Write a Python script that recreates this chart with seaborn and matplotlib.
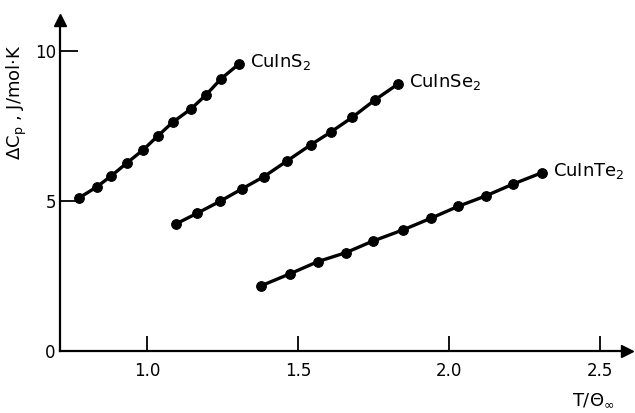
import matplotlib
matplotlib.use('Agg')
import matplotlib.pyplot as plt
import seaborn as sns

# values
s_x = [0.775, 0.834, 0.881, 0.934, 0.987, 1.036, 1.086, 1.146, 1.195, 1.245, 1.305]
s_y = [5.10, 5.47, 5.83, 6.27, 6.70, 7.17, 7.63, 8.07, 8.53, 9.07, 9.57]

se_x = [1.095, 1.166, 1.242, 1.314, 1.387, 1.463, 1.542, 1.609, 1.680, 1.755, 1.830]
se_y = [4.23, 4.59, 4.99, 5.40, 5.81, 6.33, 6.87, 7.30, 7.79, 8.37, 8.89]

te_x = [1.377, 1.475, 1.566, 1.659, 1.747, 1.846, 1.939, 2.030, 2.122, 2.211, 2.307]
te_y = [2.17, 2.58, 2.98, 3.28, 3.66, 4.03, 4.42, 4.82, 5.17, 5.56, 5.94]

labels = ['CuInS$_2$', 'CuInSe$_2$', 'CuInTe$_2$']
x_ticks = [1.0, 1.5, 2.0, 2.5]
x_ticklabels = ['1.0', '1.5', '2.0', '2.5']
y_ticks = [0, 5, 10]


def setup_style():
    sns.set_style('ticks')
    plt.rcParams['font.family'] = ['DejaVu Sans']
    plt.rcParams['mathtext.fontset'] = 'dejavusans'
    plt.rcParams['xtick.direction'] = 'in'
    plt.rcParams['ytick.direction'] = 'in'
    for key in ['text.color', 'axes.labelcolor', 'xtick.color', 'ytick.color']:
        plt.rcParams[key] = 'black'


setup_style()
fig = plt.figure(figsize=(6.35, 4.13), dpi=100)
ax = fig.add_axes([60 / 635, 62 / 413, 567 / 635, 331 / 413])

series = [(s_x, s_y), (se_x, se_y), (te_x, te_y)]
for (xs, ys), lab in zip(series, labels):
    sns.lineplot(x=xs, y=ys, ax=ax, color='black', linewidth=2.4,
                 marker='o', markersize=7, markeredgecolor='black', sort=False)
    ax.annotate(lab, xy=(xs[-1], ys[-1]), xytext=(11, 2),
                textcoords='offset pixels', ha='left', va='center', fontsize=13)

ax.set_xlim(0.712, 2.589)
ax.set_ylim(0, 11.03)
ax.set_xticks(x_ticks)
ax.set_xticklabels(x_ticklabels)
ax.set_yticks(y_ticks)
ax.tick_params(axis='x', bottom=True, direction='in', length=11, width=1.3, pad=8,
               labelsize=12, color='black', labelcolor='black')
ax.tick_params(axis='y', left=True, direction='in', length=13, width=1.3, pad=3,
               labelsize=12, color='black', labelcolor='black')

for side in ['top', 'right']:
    ax.spines[side].set_visible(False)
for side in ['left', 'bottom']:
    ax.spines[side].set_color('black')
    ax.spines[side].set_linewidth(1.6)

# arrow heads on the axes
ax.plot(1, 0, '>k', markersize=9, transform=ax.transAxes, clip_on=False)
ax.plot(0, 1, '^k', markersize=9, transform=ax.transAxes, clip_on=False)

ax.set_ylabel(r'$\Delta$C$_\mathrm{p}$ , J/mol$\cdot$K', fontsize=13, color='black')
ax.yaxis.set_label_coords(-0.055, 0.75)
fig.text(593 / 635, 1 - 400 / 413, r'T/$\Theta_\infty$', fontsize=13,
         ha='center', va='center', color='black')

fig.savefig('out.png', dpi=100)
